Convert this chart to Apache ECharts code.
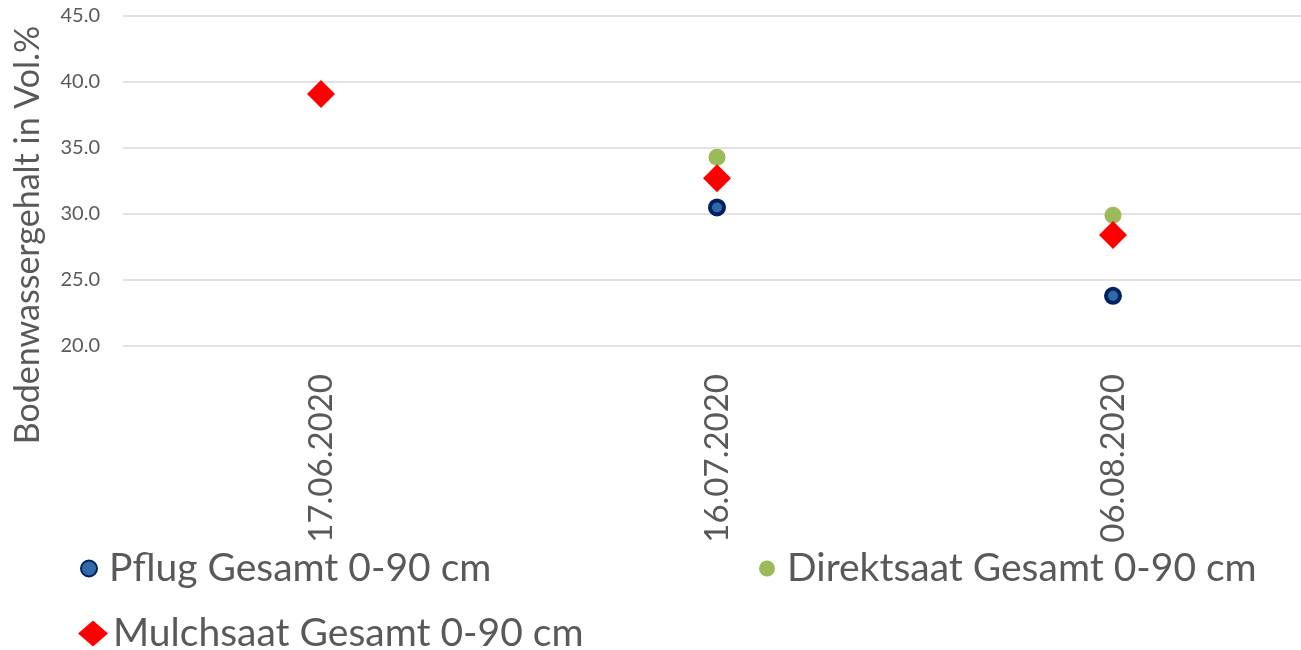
<!DOCTYPE html>
<html>
<head>
<meta charset="utf-8">
<script src="https://cdn.jsdelivr.net/npm/echarts@6/dist/echarts.min.js"></script>
<style>
  html, body { margin: 0; padding: 0; background: #fff; overflow: hidden; }
  #chart { width: 1320px; height: 650px; }
</style>
</head>
<body>
<div id="chart"></div>
<script>
// Messtermine
const dates = ['17.06.2020', '16.07.2020', '06.08.2020'];
// Bodenwassergehalt in Vol.% je Bearbeitungsvariante
const pflug = [null, 30.5, 23.8];
const direktsaat = [null, 34.3, 29.9];
const mulchsaat = [39.1, 32.7, 28.4];
const seriesNames = ['Pflug Gesamt 0-90 cm', 'Direktsaat Gesamt 0-90 cm', 'Mulchsaat Gesamt 0-90 cm'];
const yAxisTitle = 'Bodenwassergehalt in Vol.%';

const FONT = 'Lato, "Open Sans", sans-serif';
const TEXT = '#595959';

const chart = echarts.init(document.getElementById('chart'), null, { renderer: 'canvas' });

const legendText = { fontFamily: FONT, fontSize: 39, color: TEXT };

chart.setOption({
  animation: false,
  backgroundColor: '#fff',
  grid: { left: 123, top: 16, width: 1188, height: 330, containLabel: false },
  xAxis: {
    type: 'category',
    data: dates,
    boundaryGap: true,
    axisLine: { show: false },
    axisTick: { show: false },
    axisLabel: { rotate: 90, margin: 28, fontFamily: FONT, fontSize: 33, color: TEXT }
  },
  yAxis: {
    type: 'value',
    min: 20, max: 45, interval: 5,
    axisLine: { show: false },
    axisTick: { show: false },
    axisLabel: { margin: 23, fontFamily: FONT, fontSize: 20, color: TEXT, formatter: v => v.toFixed(1) },
    splitLine: { lineStyle: { color: '#d9d9d9', width: 1.5 } }
  },
  graphic: [{
    type: 'text',
    x: 28, y: 235,
    rotation: Math.PI / 2,
    style: {
      text: yAxisTitle,
      fontFamily: FONT, fontSize: 34, fill: TEXT,
      textAlign: 'center', textVerticalAlign: 'middle'
    }
  }],
  legend: [
    { data: [seriesNames[0]], left: 75, top: 544, itemWidth: 30, itemHeight: 16, itemGap: 0, textStyle: legendText },
    { data: [seriesNames[1]], left: 754, top: 544, itemWidth: 30, itemHeight: 16, itemGap: 0, textStyle: legendText },
    { data: [seriesNames[2]], left: 73, top: 609, itemWidth: 30, itemHeight: 26, itemGap: 0, textStyle: legendText }
  ],
  series: [
    {
      name: seriesNames[0], type: 'scatter', data: pflug,
      symbol: 'circle', symbolSize: 14,
      itemStyle: { color: '#2e6aa6', borderColor: '#002060', borderWidth: 4, opacity: 1 }
    },
    {
      name: seriesNames[1], type: 'scatter', data: direktsaat,
      symbol: 'circle', symbolSize: 17,
      itemStyle: { color: '#9bbb59', opacity: 1 }
    },
    {
      name: seriesNames[2], type: 'scatter', data: mulchsaat,
      symbol: 'diamond', symbolSize: [28, 28],
      itemStyle: { color: '#ff0000', opacity: 1 }
    }
  ]
});
</script>
</body>
</html>
